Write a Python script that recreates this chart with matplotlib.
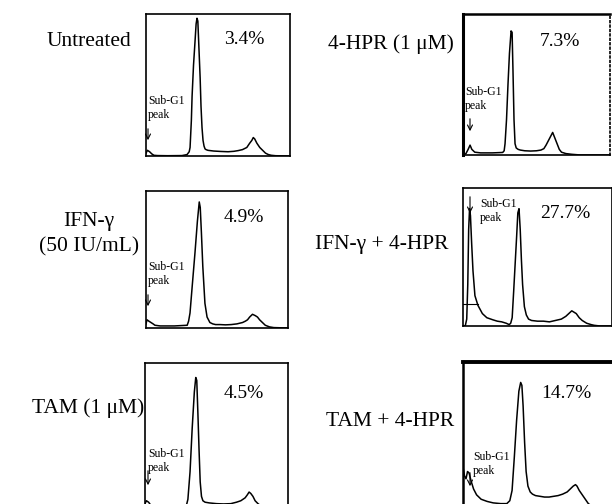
import matplotlib.pyplot as plt

# DNA content channel (0-1000) and relative counts (% of panel height)
untreated_x = [0, 10, 25, 40, 55, 80, 150, 250, 285, 300, 306, 315, 320, 330, 340, 348, 354, 360, 368, 376,
               382, 389, 396, 403, 410, 417, 430, 470, 520, 570, 610, 640, 670, 700, 720, 735, 745, 755, 770,
               790, 810, 830, 850, 870, 900, 1000]
untreated_y = [2, 4, 3, 1.5, 0.5, 0.3, 0.2, 0.3, 1, 3, 6, 25, 42, 64, 80, 93, 97, 95, 75, 55,
               35, 20, 11, 7, 5, 4.5, 4, 3.5, 3.2, 3, 3.3, 3.8, 4.5, 6, 9, 11, 13, 12, 9,
               6, 4, 2, 1, 0.5, 0.2, 0]

hpr_x = [0, 20, 35, 48, 60, 80, 120, 200, 270, 280, 286, 296, 306, 316, 327, 334, 340, 347, 354, 362,
         375, 390, 420, 460, 500, 530, 550, 565, 580, 595, 610, 625, 640, 655, 670, 700, 740, 800, 1000]
hpr_y = [0, 1, 4, 7, 4, 2, 1.5, 1.5, 1.8, 3, 8, 25, 50, 72, 88, 87, 60, 25, 8, 5,
         4, 3.5, 3, 2.8, 3, 3.5, 4.5, 7, 10, 13, 16, 12, 8, 4, 2, 1, 0.5, 0, 0]

ifn_x = [0, 7, 20, 35, 50, 63, 100, 200, 290, 300, 310, 325, 345, 362, 375, 382, 390, 400, 415, 430,
         450, 470, 490, 520, 560, 600, 640, 680, 700, 715, 730, 750, 770, 785, 800, 820, 840, 870, 900, 1000]
ifn_y = [3, 6, 5, 4, 3, 2, 1.5, 1.5, 2, 5, 11, 30, 55, 78, 92, 88, 70, 45, 18, 8,
         4, 3, 2.5, 2.5, 2.3, 2.5, 3, 4, 5, 6, 8, 10, 9, 8, 6, 4, 2, 0.8, 0.3, 0]

ifn_hpr_x = [0, 15, 25, 32, 38, 44, 50, 58, 67, 80, 100, 130, 160, 200, 230, 260, 290, 310, 320, 330,
             340, 350, 360, 368, 376, 384, 392, 400, 412, 425, 440, 460, 500, 540, 580, 620, 660, 690,
             710, 730, 745, 760, 780, 800, 830, 860, 880, 920, 1000]
ifn_hpr_y = [0, 0, 5, 30, 70, 85, 80, 60, 40, 22, 15, 9, 6, 4.5, 3.5, 3, 2, 1, 2, 6,
             25, 45, 65, 82, 85, 70, 48, 30, 14, 8, 5, 4, 3.5, 3.5, 3, 4, 5, 7,
             9, 11, 10, 9, 6, 4, 2, 1, 0.5, 0, 0]

tam_x = [0, 10, 25, 40, 60, 100, 200, 280, 290, 300, 315, 330, 345, 355, 362, 370, 378, 386, 395, 405,
         420, 450, 500, 550, 600, 640, 670, 700, 715, 728, 740, 755, 770, 790, 810, 830, 860, 900, 1000]
tam_y = [3, 5, 4, 2, 1, 0.5, 0.3, 0.5, 2, 6, 25, 55, 80, 90, 88, 65, 40, 18, 8, 5,
         4, 3.5, 3, 2.8, 3, 4, 5, 7, 9, 11, 10, 8, 5, 3, 1.5, 0.5, 0.2, 0, 0]

tam_hpr_x = [0, 10, 20, 30, 40, 55, 70, 90, 120, 160, 200, 250, 290, 310, 325, 340, 355, 370, 382, 390,
             398, 408, 418, 430, 445, 460, 480, 510, 540, 570, 600, 630, 660, 690, 710, 730, 745, 755,
             770, 790, 810, 830, 850, 880, 920, 1000]
tam_hpr_y = [28, 22, 20, 25, 24, 18, 13, 9, 6, 4.5, 3.5, 3, 3, 5, 12, 35, 60, 80, 86, 84,
             70, 45, 25, 15, 11, 9.5, 8.5, 8, 7.5, 7.5, 8, 8.5, 9.5, 11, 13, 15, 16, 15,
             12, 9, 6, 3, 1.5, 0.5, 0, 0]

treatments = ["Untreated", "4-HPR (1 \u03bcM)", "IFN-\u03b3\n(50 IU/mL)",
              "IFN-\u03b3 + 4-HPR", "TAM (1 \u03bcM)", "TAM + 4-HPR"]
sub_g1_pct = ["3.4%", "7.3%", "4.9%", "27.7%", "4.5%", "14.7%"]
series_x = [untreated_x, hpr_x, ifn_x, ifn_hpr_x, tam_x, tam_hpr_x]
series_y = [untreated_y, hpr_y, ifn_y, ifn_hpr_y, tam_y, tam_hpr_y]

# gate marker drawn in the IFN-g + 4-HPR panel
gate_level = 16
gate_range = [0, 100]

W, H = 612, 504
fig = plt.figure(figsize=(W / 100, H / 100), dpi=100)
plt.rcParams['font.family'] = ['Liberation Serif', 'DejaVu Serif']


def fx(px):
    return px / W


def fy(py):
    return 1 - py / H


# panel boxes in pixels: left, top, right, bottom
boxes = [(146, 14, 290, 156), (463, 14, 610, 155),
         (146, 191, 288, 328), (463, 188, 612, 326),
         (145, 363, 288, 508), (463, 362, 614, 508)]
# label position (center x, center y)
label_pos = [(89, 42), (391, 44), (89, 234), (382, 244), (88, 408), (390, 422)]
pct_pos = [(244, 40), (560, 42), (244, 218), (565, 214), (244, 394), (566, 394)]
# sub-G1 text (left x, y of first line) and arrow (x, y from, y to)
sub_pos = [(148, 95), (465, 86), (148, 261), (480, 198), (148, 448), (473, 451)]
arrow_pos = [(148, 126, 143), (470, 116, 134), (148, 292, 309), (470, 194, 216), (148, 468, 488), (470, 470, 489)]

for i in range(6):
    l, t, r, b = boxes[i]
    ax = fig.add_axes([fx(l), fy(b), fx(r - l), (b - t) / H])
    ax.plot(series_x[i], series_y[i], color='black', lw=1.1)
    ax.set_xlim(0, 1000)
    ax.set_ylim(0, 100)
    ax.set_xticks([])
    ax.set_yticks([])
    for s in ax.spines.values():
        s.set_linewidth(1.2)
    if i == 1:
        ax.spines['left'].set_linewidth(2.2)
        ax.spines['top'].set_linewidth(1.8)
        ax.spines['right'].set_linestyle(':')
    if i == 3:
        ax.plot(gate_range, [gate_level, gate_level], color='black', lw=0.8)
    if i == 5:
        ax.spines['top'].set_linewidth(2.8)
        ax.spines['left'].set_linewidth(1.8)

    fig.text(fx(label_pos[i][0]), fy(label_pos[i][1]), treatments[i], ha='center', va='center',
             fontsize=15.5, linespacing=1.45)
    fig.text(fx(pct_pos[i][0]), fy(pct_pos[i][1]), sub_g1_pct[i], ha='center', va='center', fontsize=14)
    fig.text(fx(sub_pos[i][0]), fy(sub_pos[i][1]), "Sub-G1\npeak", ha='left', va='top',
             fontsize=8.5, linespacing=1.2)
    axp, y0, y1 = arrow_pos[i]
    fig.add_artist(plt.matplotlib.patches.FancyArrowPatch(
        (fx(axp), fy(y0)), (fx(axp), fy(y1)), transform=fig.transFigure,
        arrowstyle='->', mutation_scale=9, lw=0.8, color='black'))

fig.savefig("out.png", dpi=100)
